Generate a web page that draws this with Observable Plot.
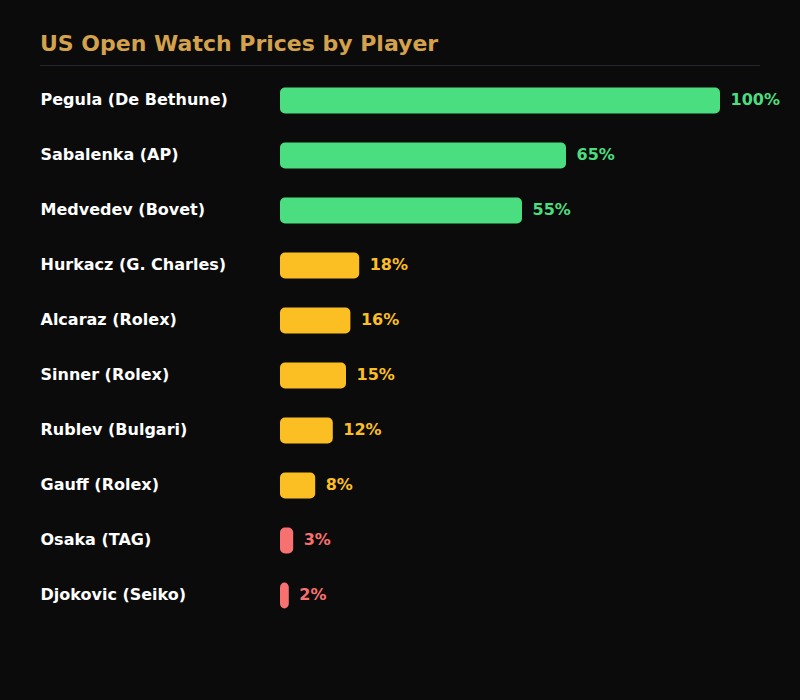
<!DOCTYPE html>
<html>
<head>
<meta charset="utf-8">
<script src="https://cdn.jsdelivr.net/npm/d3@7"></script>
<script src="https://cdn.jsdelivr.net/npm/@observablehq/plot@0.6"></script>
<style>
  html, body { margin: 0; padding: 0; background: #0b0b0b; }
  body { width: 800px; height: 700px; overflow: hidden; font-family: "DejaVu Sans", sans-serif; }
  #head { position: relative; height: 66px; margin: 0 40px; box-sizing: border-box; border-bottom: 1px solid #24282e; }
  #head h1 { position: absolute; left: 0; top: 33px; margin: 0; font: 700 22px/22px "DejaVu Sans", sans-serif; color: #d4a24c; white-space: nowrap; }
  #chart svg { display: block; }
</style>
</head>
<body>
<div id="head"><h1>US Open Watch Prices by Player</h1></div>
<div id="chart"></div>
<script>
const players = ["Pegula (De Bethune)", "Sabalenka (AP)", "Medvedev (Bovet)", "Hurkacz (G. Charles)", "Alcaraz (Rolex)", "Sinner (Rolex)", "Rublev (Bulgari)", "Gauff (Rolex)", "Osaka (TAG)", "Djokovic (Seiko)"];
const values = [100, 65, 55, 18, 16, 15, 12, 8, 3, 2];
const valueLabels = ["100%", "65%", "55%", "18%", "16%", "15%", "12%", "8%", "3%", "2%"];

const data = players.map((p, i) => ({player: p, value: values[i], label: valueLabels[i]}));
const colorOf = v => v >= 50 ? "#4ade80" : v >= 5 ? "#fbbf24" : "#f87171";

const svgTop = 66;
const chart = Plot.plot({
  width: 800,
  height: 700 - svgTop,
  margin: 0,
  style: {background: "transparent", fontFamily: "DejaVu Sans, sans-serif"},
  x: {domain: [0, 100], range: [280, 720], axis: null},
  y: {domain: players, range: [73 - svgTop, 623 - svgTop], padding: 0, axis: null},
  marks: [
    Plot.barX(data, {x: "value", y: "player", fill: d => colorOf(d.value), insetTop: 14.5, insetBottom: 14.5, rx: 5}),
    Plot.text(data, {x: "value", y: "player", text: "label", dx: 10, dy: -1.5, textAnchor: "start", fill: d => colorOf(d.value), fontSize: 16, fontWeight: "bold"}),
    Plot.text(data, {y: "player", text: "player", frameAnchor: "left", dx: 40, dy: -1.5, textAnchor: "start", fill: "#ffffff", fontSize: 16, fontWeight: "bold"})
  ]
});
document.getElementById("chart").appendChild(chart);
</script>
</body>
</html>
